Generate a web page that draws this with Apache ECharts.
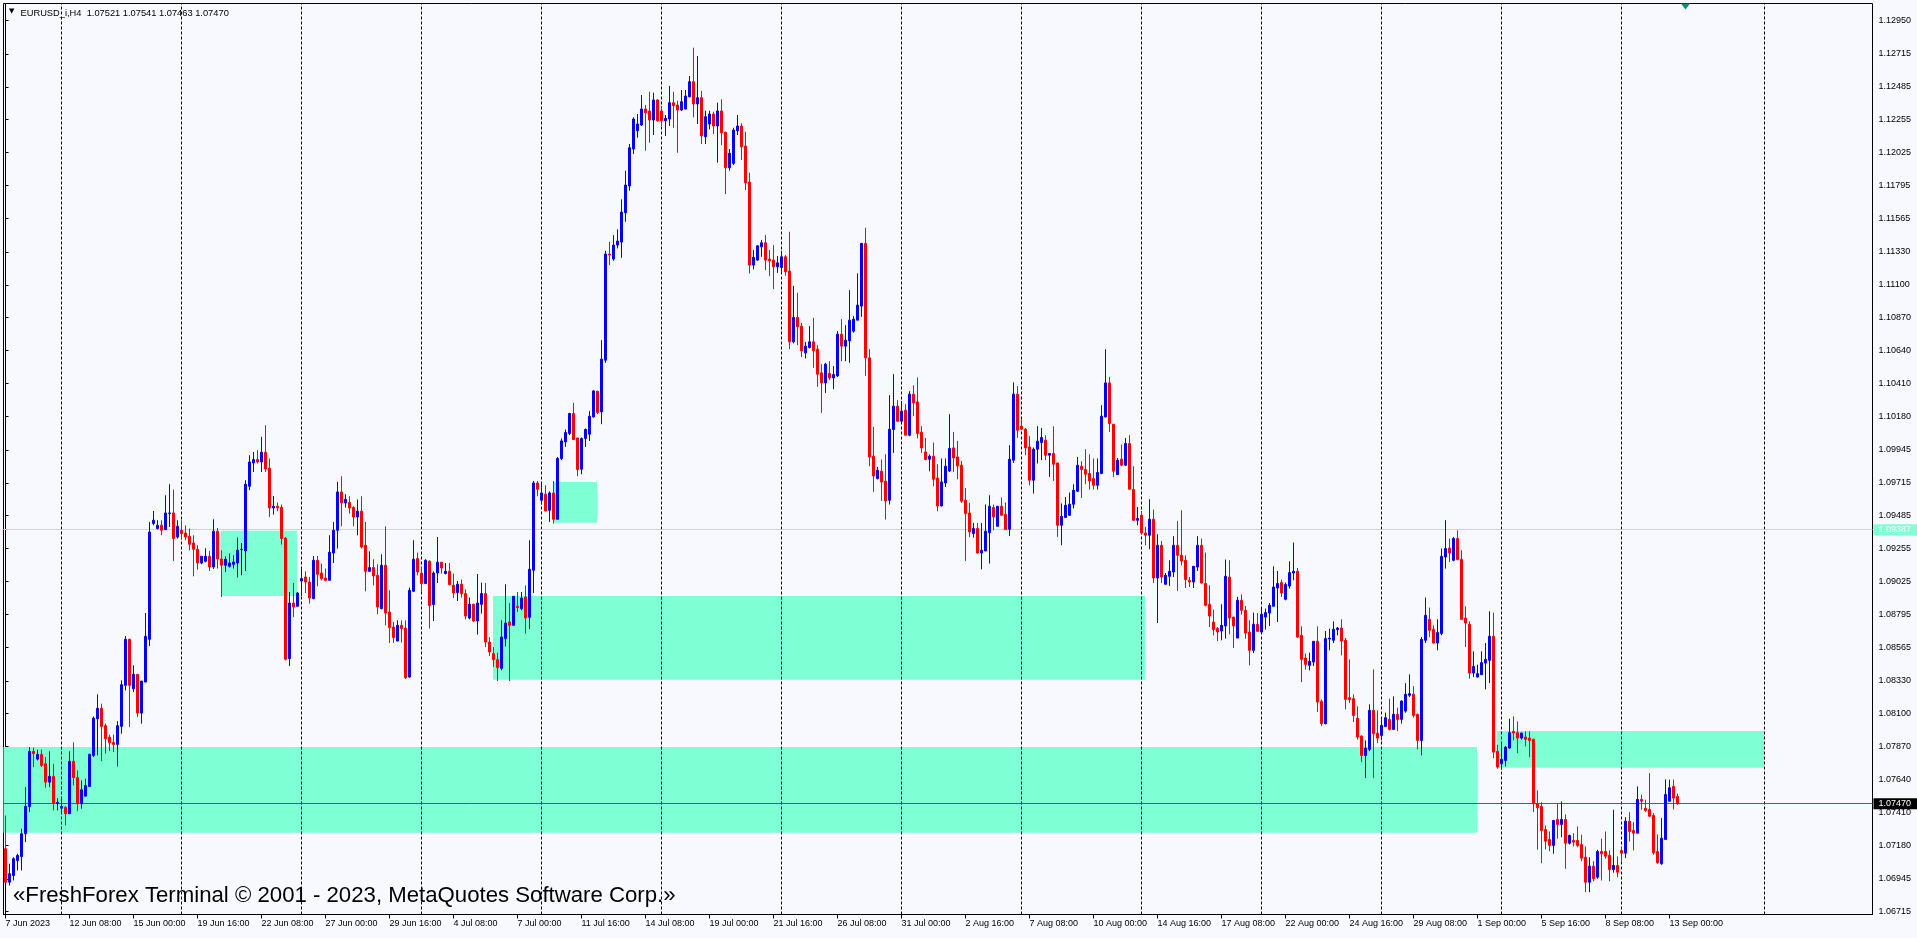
<!DOCTYPE html>
<html>
<head>
<meta charset="utf-8">
<script src="https://cdn.jsdelivr.net/npm/echarts@6/dist/echarts.min.js"></script>
<style>
html,body{margin:0;padding:0;background:#F8F8FF;}
#chart{width:1917px;height:938px;}
</style>
</head>
<body>
<div id="chart"></div>
<script>
// ---- EURUSD H4, 7 Jun 2023 16:00 .. 13 Sep 2023 08:00 (one value per H4 bar) ----
const barOpen = [
1.07155,1.06921,1.06968,1.07073,1.07101,1.07260,1.07451,1.07836,1.07782,1.07815,
1.07750,1.07621,1.07661,1.07470,1.07439,1.07446,1.07400,1.07766,1.07652,1.07470,
1.07523,1.07591,1.07808,1.08065,1.08137,1.08016,1.07936,1.07899,1.07885,1.08011,
1.08298,1.08620,1.08275,1.08375,1.08104,1.08321,1.08620,1.09430,1.09395,1.09418,
1.09388,1.09500,1.09504,1.09336,1.09383,1.09364,1.09341,1.09294,1.09250,1.09154,
1.09166,1.09201,1.09126,1.09376,1.09182,1.09138,1.09131,1.09145,1.09154,1.09248,
1.09238,1.09691,1.09854,1.09878,1.09861,1.09929,1.09817,1.09539,1.09551,1.09544,
1.09327,1.08485,1.08874,1.08851,1.09028,1.09056,1.09021,1.08905,1.09173,1.09084,
1.09049,1.09033,1.09224,1.09383,1.09651,1.09574,1.09577,1.09542,1.09476,1.09516,
1.09278,1.09096,1.09122,1.09068,1.08835,1.09138,1.08811,1.08706,1.08608,1.08718,
1.08699,1.08356,1.08956,1.09185,1.09084,1.09010,1.09166,1.08863,1.09084,1.09159,
1.09080,1.09096,1.08998,1.08947,1.09005,1.08940,1.08769,1.08865,1.08748,1.08865,
1.08940,1.08601,1.08520,1.08478,1.08417,1.08625,1.08741,1.08718,1.08851,1.08835,
1.08916,1.08774,1.09103,1.09714,1.09593,1.09635,1.09523,1.09644,1.09460,1.09885,
1.10001,1.10060,1.10200,1.10029,1.09810,1.10025,1.10055,1.10176,1.10356,1.10211,
1.10573,1.11315,1.11280,1.11378,1.11399,1.11604,1.11791,1.12050,1.12178,1.12218,
1.12330,1.12316,1.12253,1.12393,1.12316,1.12248,1.12260,1.12374,1.12358,1.12323,
1.12330,1.12416,1.12521,1.12365,1.12409,1.12136,1.12225,1.12295,1.12211,1.12316,
1.12167,1.11919,1.11950,1.12178,1.12211,1.12071,1.11819,1.11238,1.11273,1.11366,
1.11394,1.11280,1.11273,1.11226,1.11222,1.11296,1.11196,1.10701,1.10872,1.10811,
1.10624,1.10662,1.10701,1.10650,1.10484,1.10414,1.10480,1.10449,1.10463,1.10755,
1.10671,1.10708,1.10776,1.10853,1.10951,1.11390,1.10589,1.09901,1.09745,1.09796,
1.09726,1.09593,1.10088,1.10251,1.10146,1.10223,1.10048,1.10335,1.10281,1.10069,
1.09931,1.09880,1.09901,1.09749,1.09553,1.09714,1.09798,1.09959,1.09896,1.09838,
1.09593,1.09504,1.09360,1.09395,1.09224,1.09238,1.09367,1.09542,1.09411,1.09551,
1.09495,1.09390,1.09873,1.10335,1.10111,1.10090,1.09966,1.09733,1.09950,1.09997,
1.10013,1.09908,1.09920,1.09854,1.09418,1.09472,1.09488,1.09565,1.09656,1.09831,
1.09808,1.09780,1.09745,1.09698,1.09780,1.10176,1.10414,1.10125,1.09773,1.09880,
1.09838,1.09990,1.09668,1.09453,1.09488,1.09364,1.09348,1.09460,1.09049,1.09278,
1.09005,1.09061,1.09091,1.09278,1.09208,1.09173,1.09033,1.09021,1.09126,1.09278,
1.09010,1.08865,1.08741,1.08695,1.08678,1.08713,1.09056,1.08776,1.08629,1.08893,
1.08823,1.08671,1.08543,1.08725,1.08671,1.08776,1.08804,1.08851,1.08979,1.09017,
1.08900,1.08993,1.09084,1.09096,1.08648,1.08489,1.08438,1.08461,1.08606,1.08186,
1.08030,1.08622,1.08613,1.08688,1.08699,1.08613,1.08212,1.08205,1.08069,1.07943,
1.07808,1.07850,1.08123,1.07964,1.07948,1.08011,1.08060,1.07990,1.08095,1.08060,
1.08118,1.08228,1.08235,1.08095,1.07913,1.08613,1.08760,1.08690,1.08594,1.08660,
1.09196,1.09259,1.09173,1.09325,1.09180,1.08769,1.08725,1.08384,1.08356,1.08373,
1.08454,1.08473,1.08641,1.07836,1.07750,1.07773,1.07859,1.07976,1.07967,1.07929,
1.07936,1.07929,1.07920,1.07470,1.07451,1.07290,1.07220,1.07178,1.07360,1.07325,
1.07360,1.07194,1.07213,1.07213,1.07185,1.07096,1.06921,1.07033,1.06956,1.07136,
1.07136,1.07108,1.07010,1.07038,1.07143,1.07124,1.07348,1.07283,1.07264,1.07500,
1.07439,1.07430,1.07388,1.07136,1.07050,1.07220,1.07488,1.07591,1.07521
];
const barClose = [
1.06921,1.06980,1.07085,1.07108,1.07260,1.07451,1.07836,1.07820,1.07815,1.07738,
1.07621,1.07661,1.07474,1.07479,1.07451,1.07400,1.07766,1.07652,1.07470,1.07568,
1.07598,1.07815,1.08069,1.08137,1.08011,1.07925,1.07897,1.07885,1.08016,1.08303,
1.08620,1.08298,1.08375,1.08104,1.08328,1.08641,1.09371,1.09453,1.09418,1.09383,
1.09504,1.09504,1.09325,1.09411,1.09360,1.09336,1.09285,1.09250,1.09154,1.09201,
1.09201,1.09126,1.09376,1.09182,1.09138,1.09180,1.09154,1.09161,1.09243,1.09248,
1.09705,1.09861,1.09878,1.09861,1.09929,1.09812,1.09539,1.09551,1.09539,1.09325,
1.08480,1.08874,1.08846,1.08944,1.09045,1.09021,1.08909,1.09173,1.09075,1.09045,
1.09033,1.09229,1.09383,1.09651,1.09574,1.09600,1.09539,1.09476,1.09516,1.09266,
1.09096,1.09122,1.09063,1.08846,1.09138,1.08804,1.08702,1.08632,1.08718,1.08695,
1.08352,1.08963,1.09180,1.09091,1.09010,1.09173,1.08856,1.09084,1.09159,1.09119,
1.09096,1.09003,1.08944,1.09005,1.08940,1.08783,1.08865,1.08748,1.08874,1.08940,
1.08601,1.08531,1.08478,1.08422,1.08636,1.08734,1.08718,1.08921,1.08842,1.08909,
1.08769,1.09110,1.09714,1.09670,1.09644,1.09518,1.09644,1.09460,1.09885,1.10008,
1.10067,1.10200,1.10018,1.09808,1.10025,1.10088,1.10181,1.10358,1.10207,1.10580,
1.11315,1.11308,1.11378,1.11406,1.11609,1.11798,1.12059,1.12260,1.12225,1.12330,
1.12304,1.12253,1.12393,1.12248,1.12248,1.12265,1.12374,1.12353,1.12323,1.12381,
1.12421,1.12521,1.12365,1.12409,1.12141,1.12276,1.12295,1.12211,1.12316,1.12164,
1.11919,1.12020,1.12183,1.12211,1.12066,1.11814,1.11238,1.11292,1.11373,1.11394,
1.11273,1.11268,1.11226,1.11254,1.11296,1.11191,1.10701,1.10872,1.10806,1.10638,
1.10671,1.10701,1.10638,1.10475,1.10414,1.10545,1.10449,1.10473,1.10755,1.10671,
1.10713,1.10853,1.10860,1.10958,1.11390,1.10589,1.09896,1.09763,1.09803,1.09721,
1.09588,1.10090,1.10251,1.10146,1.10216,1.10048,1.10335,1.10274,1.10060,1.09959,
1.09878,1.09901,1.09740,1.09553,1.09721,1.09831,1.09955,1.09889,1.09833,1.09586,
1.09500,1.09371,1.09395,1.09224,1.09243,1.09376,1.09551,1.09476,1.09551,1.09488,
1.09388,1.09880,1.10335,1.10083,1.10090,1.09959,1.09733,1.09950,1.10006,1.10032,
1.09908,1.09920,1.09845,1.09418,1.09481,1.09558,1.09565,1.09663,1.09838,1.09808,
1.09775,1.09728,1.09698,1.09787,1.10181,1.10414,1.10130,1.09796,1.09873,1.09838,
1.09990,1.09670,1.09453,1.09465,1.09364,1.09348,1.09460,1.09049,1.09278,1.09056,
1.09068,1.09096,1.09278,1.09208,1.09168,1.09038,1.09021,1.09131,1.09278,1.09014,
1.08858,1.08783,1.08688,1.08671,1.08718,1.09061,1.08769,1.08713,1.08893,1.08823,
1.08664,1.08543,1.08725,1.08676,1.08795,1.08807,1.08858,1.08986,1.09010,1.08944,
1.09003,1.09087,1.09096,1.08636,1.08480,1.08445,1.08466,1.08606,1.08181,1.08030,
1.08625,1.08629,1.08690,1.08699,1.08608,1.08200,1.08198,1.08088,1.07936,1.07808,
1.07859,1.08123,1.07960,1.07929,1.08018,1.08072,1.07990,1.08095,1.08060,1.08188,
1.08235,1.08240,1.08088,1.07913,1.08620,1.08788,1.08683,1.08594,1.08667,1.09201,
1.09255,1.09224,1.09325,1.09178,1.08760,1.08734,1.08384,1.08431,1.08380,1.08457,
1.08480,1.08641,1.07831,1.07726,1.07780,1.07866,1.07967,1.07964,1.07929,1.07964,
1.07920,1.07913,1.07470,1.07442,1.07283,1.07208,1.07178,1.07353,1.07325,1.07360,
1.07194,1.07248,1.07201,1.07178,1.07089,1.06921,1.07033,1.06945,1.07136,1.07120,
1.07103,1.07010,1.07038,1.06991,1.07124,1.07348,1.07276,1.07264,1.07500,1.07488,
1.07423,1.07383,1.07127,1.07057,1.07229,1.07535,1.07582,1.07509,1.07470
];
const barLow = [
1.06919,1.06898,1.06933,1.07003,1.07003,1.07201,1.07411,1.07726,1.07773,1.07726,
1.07582,1.07586,1.07423,1.07423,1.07411,1.07318,1.07400,1.07598,1.07418,1.07435,
1.07523,1.07591,1.07796,1.07808,1.07768,1.07820,1.07838,1.07831,1.07731,1.07960,
1.08263,1.08006,1.08251,1.08076,1.08030,1.08321,1.08573,1.09418,1.09388,1.09348,
1.09383,1.09406,1.09168,1.09325,1.09318,1.09313,1.09243,1.09061,1.09108,1.09145,
1.09159,1.09098,1.09112,1.09115,1.08916,1.09091,1.09122,1.09115,1.09052,1.09068,
1.09098,1.09663,1.09791,1.09850,1.09791,1.09791,1.09476,1.09493,1.09516,1.09283,
1.08473,1.08433,1.08776,1.08851,1.08923,1.08944,1.08870,1.08900,1.08991,1.09033,
1.09026,1.09033,1.09154,1.09255,1.09411,1.09542,1.09500,1.09411,1.09348,1.09255,
1.08956,1.09091,1.08998,1.08795,1.08830,1.08718,1.08594,1.08594,1.08608,1.08597,
1.08342,1.08352,1.08951,1.09068,1.08951,1.09010,1.08695,1.08748,1.09014,1.09080,
1.09075,1.08998,1.08909,1.08888,1.08912,1.08760,1.08760,1.08741,1.08653,1.08800,
1.08566,1.08503,1.08426,1.08328,1.08403,1.08571,1.08328,1.08713,1.08811,1.08823,
1.08660,1.08692,1.08944,1.09621,1.09563,1.09516,1.09441,1.09430,1.09460,1.09873,
1.09966,1.10048,1.10013,1.09761,1.09775,1.09966,1.10008,1.10172,1.10195,1.10125,
1.10554,1.11238,1.11268,1.11355,1.11289,1.11541,1.11758,1.12015,1.12129,1.12211,
1.12038,1.12094,1.12148,1.12241,1.12211,1.12141,1.12211,1.12199,1.12024,1.12316,
1.12328,1.12412,1.12272,1.12225,1.12085,1.12085,1.12188,1.12155,1.11954,1.12078,
1.11735,1.11898,1.11938,1.12148,1.11973,1.11763,1.11180,1.11208,1.11268,1.11296,
1.11203,1.11161,1.11070,1.11184,1.11191,1.11163,1.10650,1.10690,1.10678,1.10596,
1.10585,1.10655,1.10519,1.10386,1.10204,1.10344,1.10433,1.10370,1.10456,1.10566,
1.10566,1.10554,1.10764,1.10853,1.10876,1.10463,1.09831,1.09651,1.09738,1.09588,
1.09458,1.09563,1.09924,1.10141,1.10137,1.10048,1.10041,1.10181,1.10025,1.09924,
1.09873,1.09796,1.09691,1.09516,1.09551,1.09686,1.09791,1.09791,1.09740,1.09574,
1.09168,1.09336,1.09332,1.09220,1.09110,1.09238,1.09150,1.09383,1.09406,1.09483,
1.09388,1.09343,1.09854,1.10029,1.10083,1.09908,1.09698,1.09640,1.09850,1.09873,
1.09873,1.09756,1.09728,1.09336,1.09278,1.09469,1.09483,1.09535,1.09651,1.09609,
1.09705,1.09668,1.09668,1.09668,1.09775,1.10172,1.10071,1.09756,1.09773,1.09831,
1.09833,1.09668,1.09448,1.09418,1.09355,1.09278,1.09250,1.09014,1.08734,1.09014,
1.09005,1.08993,1.09056,1.08958,1.09138,1.08979,1.08986,1.08979,1.09098,1.09010,
1.08851,1.08706,1.08648,1.08608,1.08613,1.08625,1.08655,1.08559,1.08629,1.08793,
1.08625,1.08438,1.08524,1.08671,1.08667,1.08688,1.08713,1.08851,1.08741,1.08916,
1.08893,1.08975,1.09033,1.08632,1.08321,1.08408,1.08403,1.08433,1.08111,1.08013,
1.08025,1.08543,1.08594,1.08648,1.08508,1.08130,1.08174,1.08041,1.07918,1.07761,
1.07649,1.07838,1.07649,1.07894,1.07913,1.08006,1.07983,1.07990,1.07978,1.08030,
1.08107,1.08216,1.08072,1.07850,1.07808,1.08594,1.08636,1.08590,1.08543,1.08648,
1.09115,1.09161,1.09166,1.09173,1.08760,1.08566,1.08345,1.08356,1.08352,1.08373,
1.08270,1.08314,1.07789,1.07715,1.07708,1.07731,1.07855,1.07913,1.07824,1.07918,
1.07871,1.07796,1.07411,1.07148,1.07054,1.07150,1.07138,1.07120,1.07225,1.07236,
1.07015,1.07185,1.07171,1.07166,1.07068,1.06851,1.06851,1.06928,1.06945,1.06933,
1.07085,1.06928,1.06987,1.06956,1.07068,1.07089,1.07206,1.07143,1.07264,1.07428,
1.07411,1.07376,1.07113,1.07050,1.07043,1.07220,1.07488,1.07430,1.07463
];
const barHigh = [
1.07388,1.07050,1.07096,1.07120,1.07295,1.07586,1.07866,1.07862,1.07848,1.07848,
1.07796,1.07836,1.07750,1.07509,1.07509,1.07451,1.07836,1.07899,1.07703,1.07633,
1.07645,1.07820,1.08081,1.08235,1.08170,1.08030,1.07953,1.07953,1.08048,1.08333,
1.08643,1.08625,1.08438,1.08375,1.08328,1.08804,1.09441,1.09518,1.09453,1.09453,
1.09628,1.09705,1.09668,1.09453,1.09453,1.09418,1.09395,1.09348,1.09278,1.09201,
1.09257,1.09238,1.09460,1.09399,1.09243,1.09201,1.09220,1.09208,1.09332,1.09294,
1.09733,1.09908,1.09931,1.09943,1.10036,1.10118,1.09885,1.09623,1.09577,1.09563,
1.09336,1.08951,1.09014,1.08951,1.09115,1.09096,1.09056,1.09203,1.09203,1.09150,
1.09115,1.09348,1.09441,1.09721,1.09761,1.09635,1.09621,1.09551,1.09598,1.09621,
1.09441,1.09236,1.09180,1.09145,1.09215,1.09411,1.08963,1.08741,1.08753,1.08753,
1.08753,1.08982,1.09313,1.09227,1.09126,1.09180,1.09173,1.09096,1.09336,1.09159,
1.09154,1.09154,1.09080,1.09028,1.09038,1.08970,1.08912,1.08870,1.09077,1.09017,
1.09014,1.08636,1.08566,1.08527,1.08753,1.09005,1.08874,1.08921,1.08951,1.08951,
1.08998,1.09313,1.09728,1.09728,1.09710,1.09698,1.09656,1.09728,1.09896,1.10025,
1.10088,1.10204,1.10274,1.10029,1.10032,1.10095,1.10218,1.10363,1.10356,1.10713,
1.11338,1.11401,1.11448,1.11488,1.11698,1.11898,1.12085,1.12272,1.12295,1.12428,
1.12358,1.12451,1.12444,1.12398,1.12351,1.12288,1.12491,1.12451,1.12388,1.12463,
1.12463,1.12561,1.12759,1.12701,1.12456,1.12318,1.12318,1.12311,1.12374,1.12398,
1.12171,1.12050,1.12199,1.12288,1.12230,1.12171,1.11884,1.11343,1.11378,1.11413,
1.11448,1.11343,1.11378,1.11301,1.11338,1.11308,1.11471,1.11093,1.11044,1.10834,
1.10701,1.10811,1.10869,1.10678,1.10545,1.10554,1.10566,1.10531,1.10776,1.10860,
1.10818,1.11063,1.10881,1.11180,1.11390,1.11499,1.10650,1.10106,1.09826,1.09878,
1.09915,1.10328,1.10475,1.10293,1.10288,1.10265,1.10356,1.10398,1.10452,1.10111,
1.10029,1.09913,1.09997,1.09845,1.09885,1.09885,1.10195,1.10071,1.10008,1.09868,
1.09679,1.09574,1.09434,1.09434,1.09434,1.09563,1.09628,1.09563,1.09551,1.09612,
1.09577,1.09978,1.10417,1.10391,1.10158,1.10099,1.10041,1.09962,1.10111,1.10099,
1.10048,1.09920,1.10111,1.09854,1.09570,1.09616,1.09647,1.09705,1.09896,1.09866,
1.09950,1.09915,1.09885,1.09885,1.10258,1.10650,1.10456,1.10125,1.09889,1.09983,
1.10029,1.10048,1.09831,1.09546,1.09518,1.09406,1.09600,1.09528,1.09355,1.09308,
1.09084,1.09173,1.09341,1.09448,1.09523,1.09208,1.09056,1.09131,1.09341,1.09325,
1.09227,1.08998,1.08828,1.08706,1.08865,1.09178,1.09173,1.08776,1.08916,1.08935,
1.08853,1.08753,1.08807,1.08804,1.08835,1.08835,1.08874,1.09131,1.09098,1.09038,
1.09017,1.09166,1.09297,1.09119,1.08711,1.08520,1.08527,1.08608,1.08711,1.08198,
1.08678,1.08695,1.08746,1.08706,1.08760,1.08629,1.08480,1.08235,1.08151,1.07948,
1.07913,1.08165,1.08410,1.08123,1.08065,1.08107,1.08205,1.08221,1.08142,1.08193,
1.08314,1.08375,1.08293,1.08100,1.08636,1.08912,1.08842,1.08718,1.08760,1.09255,
1.09453,1.09325,1.09336,1.09383,1.09243,1.08851,1.08746,1.08536,1.08443,1.08536,
1.08594,1.08816,1.08807,1.07883,1.07885,1.07873,1.08065,1.08081,1.08046,1.07967,
1.07976,1.07976,1.07925,1.07563,1.07481,1.07318,1.07276,1.07353,1.07470,1.07486,
1.07395,1.07253,1.07264,1.07311,1.07253,1.07171,1.07096,1.07068,1.07148,1.07225,
1.07276,1.07143,1.07428,1.07101,1.07166,1.07376,1.07411,1.07341,1.07591,1.07533,
1.07498,1.07684,1.07404,1.07255,1.07369,1.07640,1.07638,1.07640,1.07541
];

// time-axis labels (bar index -> text)
const timeLabelIdx = [0,16,32,48,64,80,96,112,128,144,160,176,192,208,224,240,256,272,288,304,320,336,352,368,384,400,416];
const timeLabels = ["7 Jun 2023","12 Jun 08:00","15 Jun 00:00","19 Jun 16:00","22 Jun 08:00","27 Jun 00:00","29 Jun 16:00",
  "4 Jul 08:00","7 Jul 00:00","11 Jul 16:00","14 Jul 08:00","19 Jul 00:00","21 Jul 16:00","26 Jul 08:00","31 Jul 00:00",
  "2 Aug 16:00","7 Aug 08:00","10 Aug 00:00","14 Aug 16:00","17 Aug 08:00","22 Aug 00:00","24 Aug 16:00","29 Aug 08:00",
  "1 Sep 00:00","5 Sep 16:00","8 Sep 08:00","13 Sep 00:00"];
// price-axis tick labels
const priceTicks = [1.12950,1.12715,1.12485,1.12255,1.12025,1.11795,1.11565,1.11330,1.11100,1.10870,1.10640,1.10410,
  1.10180,1.09945,1.09715,1.09485,1.09255,1.09025,1.08795,1.08565,1.08330,1.08100,1.07870,1.07640,1.07410,1.07180,1.06945,1.06715];
// weekly separators (bar index of Monday 00:00) and the last one in the future area
const weekGridIdx = [14,44,74,104,134,164,194,224,254,284,314,344,374,404,439.625];
// rectangle zones: [fromBar, toBar, topPrice, bottomPrice]
const zoneFrom   = [-0.5, 121.875, 53.875, 136.875, 372.875];
const zoneTo     = [367.875, 284.875, 72.875, 147.875, 439.625];
const zoneTop    = [1.07867, 1.08923, 1.09380, 1.09721, 1.07979];
const zoneBottom = [1.07267, 1.08338, 1.08923, 1.09436, 1.07722];
// horizontal price levels
const levelPrice = [1.09387, 1.07470];
const symbolTitle = "EURUSD_i,H4  1.07521 1.07541 1.07463 1.07470";
const watermark = "«FreshForex Terminal © 2001 - 2023, MetaQuotes Software Corp.»";

const FONT = '"Liberation Sans", Arial, sans-serif';
const candleData = barOpen.map((o, i) => [i, o, barClose[i], barLow[i], barHigh[i]]);

const chart = echarts.init(document.getElementById('chart'), null, {renderer: 'canvas'});
chart.setOption({
  animation: false,
  backgroundColor: '#F8F8FF',
  grid: {left: 3.5, top: 3.5, width: 1869, height: 911, show: true, borderColor: '#000', borderWidth: 1, backgroundColor: 'transparent'},
  xAxis: {
    type: 'value', min: -0.5, max: 466.75,
    splitLine: {show: false},
    axisLine: {show: true, lineStyle: {color: '#000', width: 1}},
    axisTick: {show: true, customValues: timeLabelIdx, length: 4, lineStyle: {color: '#000'}},
    axisLabel: {
      show: true, customValues: timeLabelIdx, align: 'left', margin: 5,
      color: '#000', fontSize: 9, fontFamily: FONT,
      formatter: v => timeLabels[timeLabelIdx.indexOf(Math.round(v))] || ''
    }
  },
  yAxis: {
    type: 'value', position: 'right', min: 1.06695, max: 1.13068, scale: true,
    splitLine: {show: false},
    axisLine: {show: true, lineStyle: {color: '#000', width: 1}},
    axisTick: {show: true, customValues: priceTicks, length: 3, lineStyle: {color: '#000'}},
    axisLabel: {
      show: true, customValues: priceTicks, margin: 6, color: '#000', fontSize: 9, fontFamily: FONT,
      formatter: v => v.toFixed(5)
    }
  },
  graphic: [
    {type: 'text', left: 9, top: 8, z: 10, style: {text: '▼', font: '7px "DejaVu Sans"', fill: '#000'}},
    {type: 'text', x: 20.5, y: 13, z: 10, style: {text: symbolTitle, font: '9.3px ' + FONT, fill: '#000', verticalAlign: 'middle'}},
    {type: 'text', x: 13, y: 895.5, z: 10, style: {text: watermark, font: '22.2px ' + FONT, fill: '#000', verticalAlign: 'middle'}}
  ],
  series: [
    {
      name: 'zones', type: 'line', data: [], silent: true,
      markArea: {
        silent: true, z: 1,
        itemStyle: {color: '#7FFFD4', opacity: 1},
        data: zoneFrom.map((f, k) => [{xAxis: f, yAxis: zoneTop[k]}, {xAxis: zoneTo[k], yAxis: zoneBottom[k]}])
      }
    },
    {
      name: 'weeks', type: 'line', data: [], silent: true,
      markLine: {
        silent: true, z: 1.2, symbol: ['none', 'none'], label: {show: false},
        lineStyle: {color: '#000', width: 1, type: [3, 2]},
        emphasis: {disabled: true},
        data: weekGridIdx.map(v => ({xAxis: v}))
      }
    },
    {
      name: 'levels', type: 'line', data: [], silent: true,
      markLine: {
        silent: true, z: 1.5, symbol: ['none', 'none'], precision: 5,
        emphasis: {disabled: true},
        data: [
          {yAxis: levelPrice[0], lineStyle: {color: '#7FFFD4', width: 1, type: 'solid'},
           label: {show: true, position: 'end', distance: 1, formatter: levelPrice[0].toFixed(5), color: '#fff',
                   backgroundColor: '#7FFFD4', padding: [1, 6, 0, 5], fontSize: 9, lineHeight: 10, fontFamily: FONT}},
          {yAxis: levelPrice[1], lineStyle: {color: '#147D78', width: 1, type: 'solid'},
           label: {show: true, position: 'end', distance: 1, formatter: levelPrice[1].toFixed(5), color: '#fff',
                   backgroundColor: '#000', padding: [1, 6, 0, 5], fontSize: 9, lineHeight: 10, fontFamily: FONT}}
        ]
      },
      markPoint: {
        silent: true, z: 6,
        data: [{coord: [420, 1.13068], symbol: 'triangle', symbolSize: [9, 6], symbolRotate: 180, symbolOffset: [0, 3],
                itemStyle: {color: '#0E8C80'}, label: {show: false}}]
      }
    },
    {
      name: 'EURUSD', type: 'candlestick', z: 2,
      data: candleData,
      encode: {x: 0, y: [1, 2, 3, 4]},
      barWidth: 2,
      itemStyle: {color: '#0000FF', color0: '#FF0000', borderColor: '#0000FF', borderColor0: '#FF0000',
                  borderColorDoji: '#000000', borderWidth: 1}
    }
  ]
});
</script>
</body>
</html>
